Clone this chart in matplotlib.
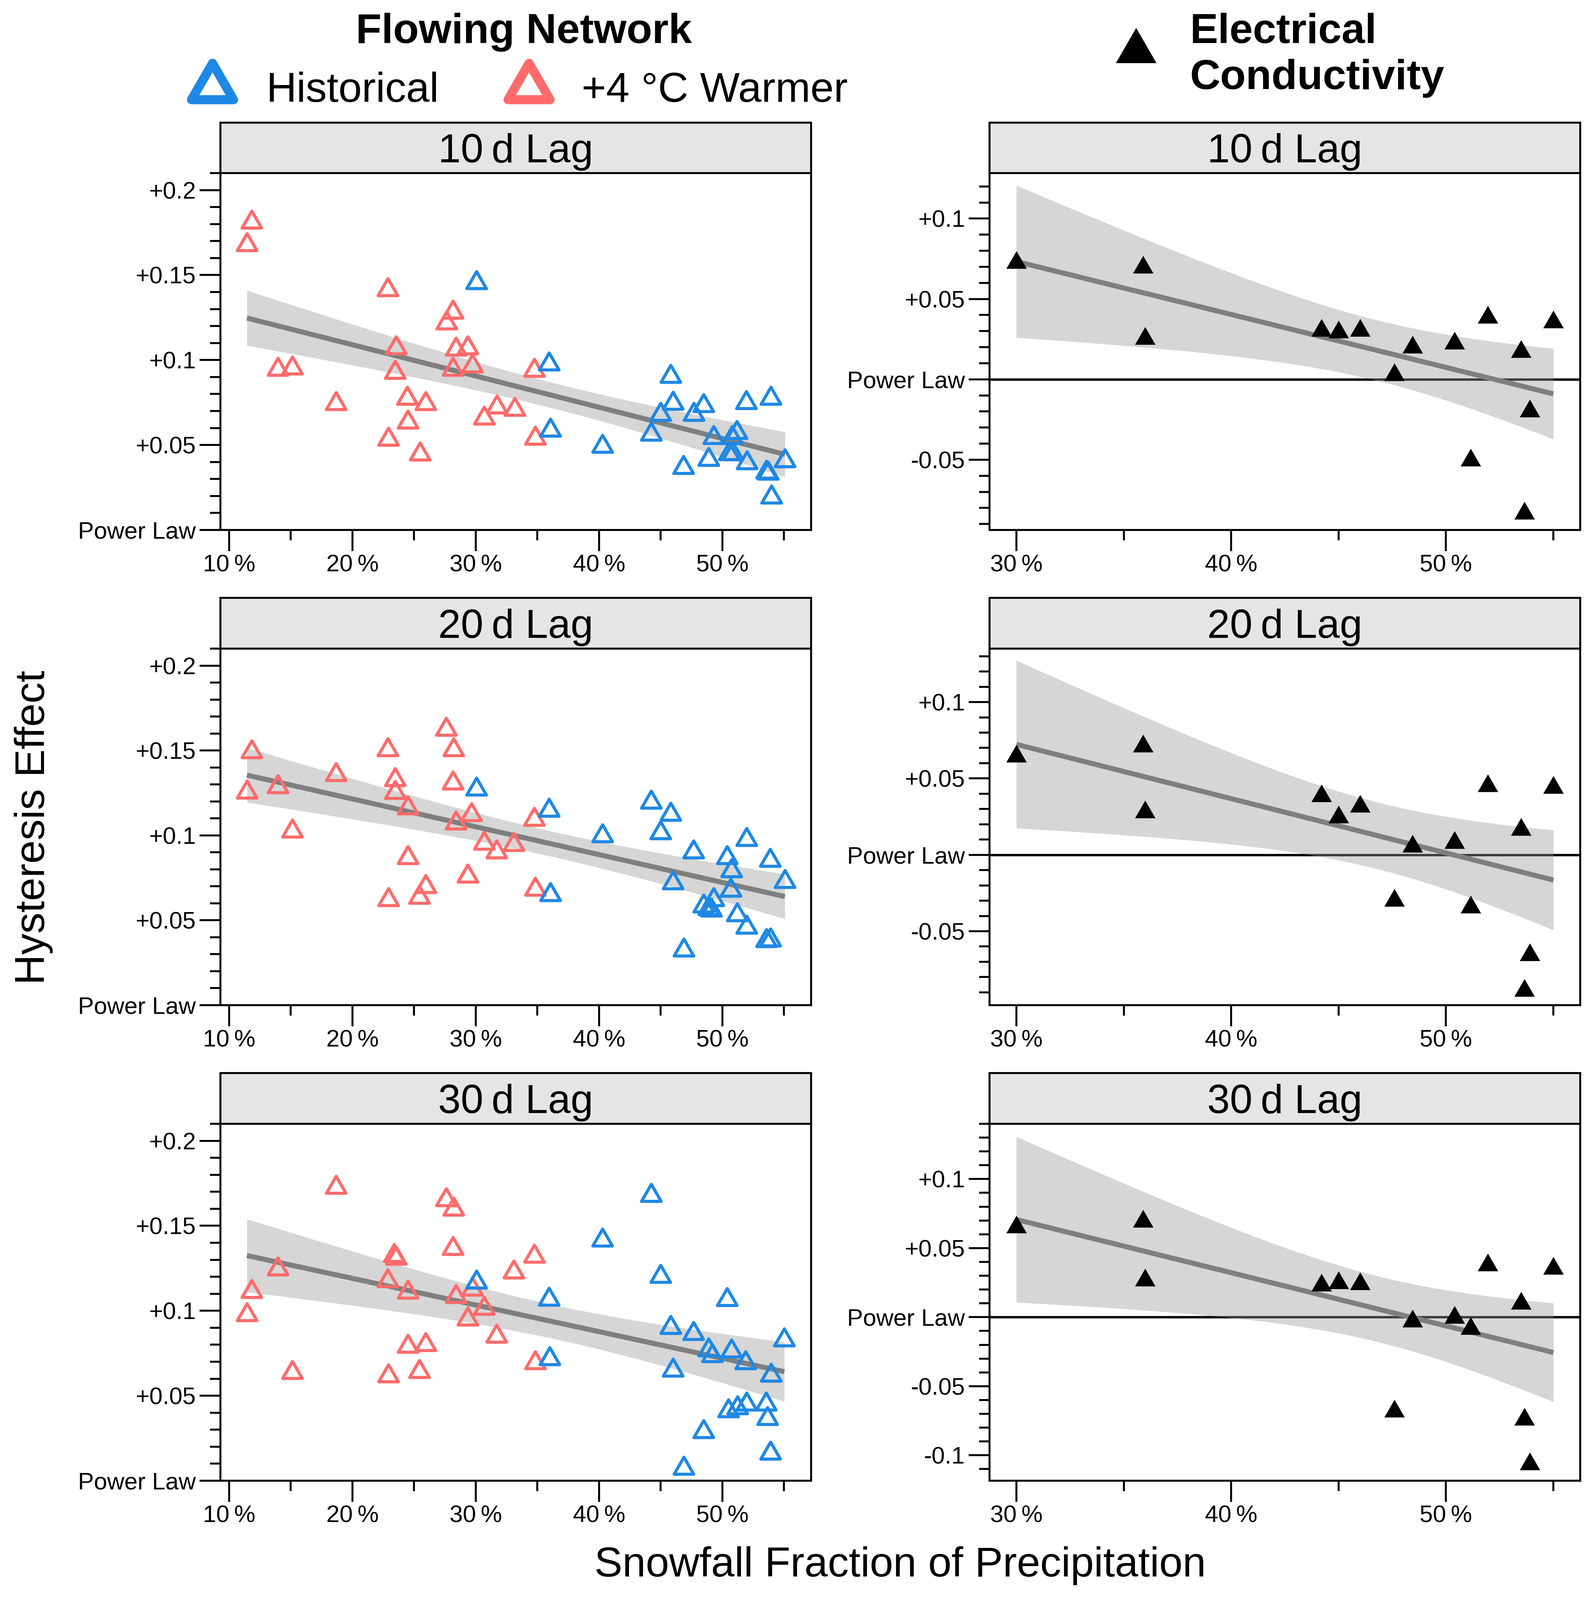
import numpy as np
import matplotlib
matplotlib.use("Agg")
import matplotlib.pyplot as plt
from matplotlib.path import Path
from matplotlib.markers import MarkerStyle

plt.rcParams["font.family"] = ["Liberation Sans", "DejaVu Sans"]

W, H, DPI = 4747, 4761, 300
BLUE, RED = "#1E88E5", "#FF6B6B"
STRIP = "#E5E5E5"

LAGS = ["10\u2009d Lag", "20\u2009d Lag", "30\u2009d Lag"]

# --- flowing network, 10 d lag ---
hist10_x = [30.07, 35.94, 36.06, 45.8, 46.0, 48.48, 51.95, 53.92, 45.0, 47.7, 40.27, 44.22,
            49.29, 51.17, 50.8, 48.9, 50.56, 50.85, 46.85, 52.0, 55.08, 53.58, 53.7, 53.98]
hist10_y = [0.1471, 0.0993, 0.0604, 0.0919, 0.0761, 0.0747, 0.0766, 0.0791, 0.0697, 0.0697, 0.0508, 0.0579,
            0.0559, 0.0589, 0.0559, 0.0432, 0.0465, 0.0465, 0.0384, 0.0412, 0.0424, 0.0355, 0.0350, 0.021]
warm10_x = [11.83, 11.45, 22.88, 28.16, 27.65, 23.56, 28.41, 29.35, 13.95, 15.14, 23.48, 28.16,
            29.73, 34.75, 18.67, 24.46, 25.94, 31.73, 33.17, 30.7, 24.5, 22.93, 34.83, 25.48]
warm10_y = [0.1828, 0.1694, 0.1429, 0.1298, 0.1233, 0.1088, 0.108, 0.1088, 0.0961, 0.0969, 0.0944, 0.0961,
            0.0981, 0.0956, 0.076, 0.0791, 0.076, 0.074, 0.0726, 0.0675, 0.065, 0.0549, 0.0556, 0.0463]

# --- flowing network, 20 d lag ---
hist20_x = [30.07, 35.94, 44.23, 45.8, 45.0, 40.27, 51.97, 47.67, 50.4, 53.88, 50.74, 55.07,
            46.0, 50.7, 36.06, 49.3, 48.48, 48.9, 49.1, 51.2, 51.97, 53.58, 53.9, 46.86]
hist20_y = [0.1288, 0.1164, 0.1212, 0.114, 0.1031, 0.1013, 0.0991, 0.0918, 0.0885, 0.0868, 0.0807, 0.0744,
            0.0736, 0.0693, 0.0668, 0.0637, 0.060, 0.0583, 0.0575, 0.0549, 0.0476, 0.0396, 0.040, 0.034]
warm20_x = [11.83, 11.45, 13.95, 15.14, 18.67, 22.88, 23.48, 23.48, 24.5, 27.6, 28.2, 28.16,
            29.65, 28.4, 34.75, 24.5, 30.7, 31.7, 33.1, 29.35, 25.94, 25.43, 22.93, 34.83]
warm20_y = [0.1509, 0.1271, 0.1302, 0.1042, 0.1373, 0.1521, 0.1344, 0.1268, 0.1178, 0.164, 0.1521, 0.1325,
            0.1139, 0.1088, 0.111, 0.0884, 0.0969, 0.0918, 0.0962, 0.0775, 0.0714, 0.0651, 0.0637, 0.0698]

# --- flowing network, 30 d lag ---
hist30_x = [44.23, 40.27, 45.0, 30.07, 35.94, 50.4, 45.8, 47.67, 55.03, 48.9, 49.2, 50.74,
            51.9, 36.0, 46.0, 53.96, 53.54, 51.97, 51.24, 50.5, 53.66, 48.48, 53.9, 46.86]
hist30_y = [0.1694, 0.1431, 0.1218, 0.1184, 0.1084, 0.1082, 0.0918, 0.0882, 0.0845, 0.0785, 0.0751, 0.078,
            0.0709, 0.0734, 0.0666, 0.0636, 0.0466, 0.0466, 0.0445, 0.0427, 0.0382, 0.0304, 0.0177, 0.0088]
warm30_x = [18.67, 27.6, 28.2, 28.16, 23.4, 23.56, 34.75, 33.1, 13.95, 22.88, 24.5, 11.83,
            28.41, 29.73, 30.7, 11.45, 29.35, 31.7, 24.5, 25.94, 34.83, 15.14, 25.43, 22.93]
warm30_y = [0.1742, 0.1669, 0.1613, 0.1383, 0.1341, 0.1324, 0.1337, 0.1244, 0.1261, 0.1193, 0.1125, 0.113,
            0.1099, 0.1142, 0.1031, 0.0992, 0.0967, 0.0867, 0.0807, 0.0816, 0.0709, 0.0653, 0.0658, 0.0632]

# --- electrical conductivity (same sites for every lag) ---
ec_x = [30.0, 35.9, 36.0, 44.2, 45.0, 46.0, 47.6, 48.45, 50.4, 51.15, 51.95, 53.5, 53.65, 53.9, 55.0]
ec10_y = [0.0744, 0.0715, 0.0272, 0.0321, 0.0312, 0.0321, 0.0045, 0.0216, 0.0243, -0.0486, 0.0402,
          0.0189, -0.0816, -0.018, 0.0373]
ec20_y = [0.0663, 0.0729, 0.0298, 0.0403, 0.0266, 0.0336, -0.0281, 0.0074, 0.0099, -0.0325, 0.0469,
          0.0184, -0.087, -0.0636, 0.046]
ec30_y = [0.0673, 0.0715, 0.0289, 0.0252, 0.0268, 0.0262, -0.066, -0.001, 0.0019, -0.0063, 0.0398,
          0.012, -0.0719, -0.1044, 0.0373]

EC_YLIM = [(-0.0937, 0.1283), (-0.0984, 0.135), (-0.1184, 0.140)]
T95 = {46: 2.0129, 13: 2.1604}   # t quantiles for the lm confidence band

# equilateral triangle, centred on its bounding box
TRI = MarkerStyle(Path([(0, .433), (-.5, -.433), (.5, -.433), (0, .433)], [1, 2, 2, 79]),
                  joinstyle="round")


def box(x0, y0, x1, y1):
    return [x0 / W, 1 - y1 / H, (x1 - x0) / W, (y1 - y0) / H]


def lm_band(x, y):
    x = np.asarray(x); y = np.asarray(y); n = len(x)
    b1, b0 = np.polyfit(x, y, 1)
    xs = np.linspace(x.min(), x.max(), 80)
    s = np.sqrt(np.sum((y - (b0 + b1 * x)) ** 2) / (n - 2))
    se = s * np.sqrt(1 / n + (xs - x.mean()) ** 2 / np.sum((x - x.mean()) ** 2))
    fit = b0 + b1 * xs
    return xs, fit, fit - T95[n - 2] * se, fit + T95[n - 2] * se


def style(ax):
    for sp in ax.spines.values():
        sp.set_linewidth(1.4)
    ax.tick_params(which="major", length=15, width=1.4, pad=2.5, labelsize=17)
    ax.tick_params(which="minor", length=7.5, width=1.4)


def strip(x0, x1, y0, y1, label):
    s = fig.add_axes(box(x0, y0, x1, y1))
    s.set_facecolor(STRIP)
    s.set_xticks([]); s.set_yticks([])
    for sp in s.spines.values():
        sp.set_linewidth(1.4)
    s.text(0.5, 0.213, label, transform=s.transAxes, ha="center", va="baseline", fontsize=29)


def fmt_y(v):
    if abs(v) < 1e-9:
        return "Power Law"
    return f"{v:+g}".replace("-", "-")


fig = plt.figure(figsize=(W / DPI, H / DPI), dpi=DPI)

ROWS = [(365, 515, 1577), (1779, 1930, 2991), (3193, 3344, 4406)]
LEFT, RIGHT = (656, 2414), (2945, 4703)

flow = [(hist10_x, hist10_y, warm10_x, warm10_y),
        (hist20_x, hist20_y, warm20_x, warm20_y),
        (hist30_x, hist30_y, warm30_x, warm30_y)]
ec = [ec10_y, ec20_y, ec30_y]

for r, (st, top, bot) in enumerate(ROWS):
    hx, hy, wx, wy = flow[r]
    # left: flowing network
    ax = fig.add_axes(box(LEFT[0], top, LEFT[1], bot))
    xs, fit, lo, hi = lm_band(hx + wx, hy + wy)
    ax.fill_between(xs, lo, hi, color="#999999", alpha=0.4, lw=0)
    ax.plot(xs, fit, color="#7F7F7F", lw=3.6, solid_capstyle="butt")
    ax.plot(wx, wy, ls="none", marker=TRI, ms=14, mfc="none", mec=RED, mew=2.2)
    ax.plot(hx, hy, ls="none", marker=TRI, ms=14, mfc="none", mec=BLUE, mew=2.2)
    ax.set_xlim(9.3, 57.2)
    ax.set_ylim(0, 0.21)
    ax.set_xticks([10, 20, 30, 40, 50])
    ax.set_xticklabels([f"{v}\u2009%" for v in [10, 20, 30, 40, 50]])
    ax.set_xticks([15, 25, 35, 45, 55], minor=True)
    yt = [0, 0.05, 0.1, 0.15, 0.2]
    ax.set_yticks(yt)
    ax.set_yticklabels([fmt_y(v) for v in yt])
    ax.set_yticks(np.round(np.arange(0.01, 0.215, 0.01), 3), minor=True)
    style(ax)
    strip(LEFT[0], LEFT[1], st, top, LAGS[r])

    # right: electrical conductivity
    ax = fig.add_axes(box(RIGHT[0], top, RIGHT[1], bot))
    ax.axhline(0, color="black", lw=1.7, zorder=1)
    xs, fit, lo, hi = lm_band(ec_x, ec[r])
    ax.fill_between(xs, lo, hi, color="#999999", alpha=0.4, lw=0, zorder=2)
    ax.plot(xs, fit, color="#7F7F7F", lw=3.6, solid_capstyle="butt", zorder=3)
    ax.plot(ec_x, ec[r], ls="none", marker=TRI, ms=14.6, color="black", mew=0, zorder=4)
    ax.set_xlim(28.75, 56.25)
    ax.set_ylim(*EC_YLIM[r])
    ax.set_xticks([30, 40, 50])
    ax.set_xticklabels([f"{v}\u2009%" for v in [30, 40, 50]])
    ax.set_xticks([35, 45, 55], minor=True)
    lo_lim, hi_lim = EC_YLIM[r]
    yt = [v for v in [-0.1, -0.05, 0, 0.05, 0.1] if lo_lim <= v <= hi_lim]
    ax.set_yticks(yt)
    ax.set_yticklabels([fmt_y(v) for v in yt])
    ax.set_yticks([v for v in np.round(np.arange(-0.12, 0.15, 0.01), 3) if lo_lim <= v <= hi_lim],
                  minor=True)
    style(ax)
    strip(RIGHT[0], RIGHT[1], st, top, LAGS[r])

fig.text(100 / W, 1 - 2462 / H, "Hysteresis Effect", rotation=90, fontsize=30,
         ha="center", va="center")
fig.text(2679 / W, 1 - 4659 / H, "Snowfall Fraction of Precipitation", fontsize=30,
         ha="center", va="center")

# legends, placed in pixel coordinates
lg = fig.add_axes([0, 0, 1, 1])
lg.set_xlim(0, W); lg.set_ylim(H, 0); lg.axis("off")
lg.text(1559, 128, "Flowing Network", fontsize=30, fontweight="bold", ha="center", va="baseline")
lg.plot([632], [242], marker=TRI, ms=30, mfc="none", mec=BLUE, mew=6.5)
lg.text(793, 303, "Historical", fontsize=30, va="baseline")
lg.plot([1574], [242], marker=TRI, ms=30, mfc="none", mec=RED, mew=6.5)
lg.text(1731, 303, "+4 °C Warmer", fontsize=30, va="baseline")
lg.plot([3381], [135], marker=TRI, ms=29, color="black", mew=0)
lg.text(3542, 128, "Electrical", fontsize=30, fontweight="bold", va="baseline")
lg.text(3542, 265, "Conductivity", fontsize=30, fontweight="bold", va="baseline")

fig.savefig("out.png", dpi=DPI)
